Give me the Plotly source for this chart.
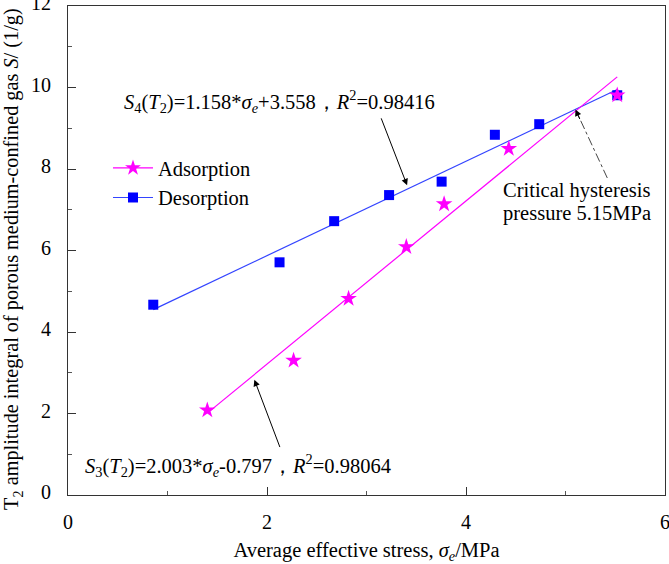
import plotly.graph_objects as go

# Data
des_x = [0.857, 2.126, 2.675, 3.227, 3.755, 4.29, 4.736, 5.52]
des_y = [4.67, 5.71, 6.72, 7.36, 7.69, 8.84, 9.10, 9.81]
ads_x = [1.40, 2.267, 2.82, 3.40, 3.78, 4.43, 5.52]
ads_y = [2.08, 3.30, 4.82, 6.09, 7.14, 8.50, 9.81]
# fitted lines endpoints (S4 = 1.158*x + 3.558 ; S3 = 2.003*x - 0.797)
des_fit_x = [0.857, 5.52]
des_fit_y = [4.55, 9.95]
ads_fit_x = [1.40, 5.52]
ads_fit_y = [2.01, 10.26]
x_ticks = [0, 2, 4, 6]
y_ticks = [0, 2, 4, 6, 8, 10, 12]

FONT = "Liberation Serif, Times New Roman, serif"
MAG = "#FF00FF"
BLU = "#0000FF"
AF = 20.5

fig = go.Figure()
# fit lines
fig.add_trace(go.Scatter(x=des_fit_x, y=des_fit_y, mode="lines",
                         line=dict(color="#3344FF", width=1.2), showlegend=False, hoverinfo="skip"))
fig.add_trace(go.Scatter(x=ads_fit_x, y=ads_fit_y, mode="lines",
                         line=dict(color=MAG, width=1.2), showlegend=False, hoverinfo="skip"))
# markers
fig.add_trace(go.Scatter(x=des_x, y=des_y, mode="markers",
                         marker=dict(symbol="square", size=10, color=BLU), showlegend=False))
fig.add_trace(go.Scatter(x=ads_x, y=ads_y, mode="markers",
                         marker=dict(symbol="star", size=12.5, color=MAG, line=dict(width=0)), showlegend=False))
# legend entries
fig.add_trace(go.Scatter(x=[None], y=[None], mode="lines+markers", name="Adsorption",
                         line=dict(color=MAG, width=1.2),
                         marker=dict(symbol="star", size=12, color=MAG)))
fig.add_trace(go.Scatter(x=[None], y=[None], mode="lines+markers", name="Desorption",
                         line=dict(color="#3344FF", width=1.2),
                         marker=dict(symbol="square", size=10, color=BLU)))

annots = []
annots.append(dict(x=0.544, y=9.65, xref="x", yref="y", xanchor="left", yanchor="middle",
                   showarrow=False, font=dict(size=AF, family=FONT, color="black"),
                   text="<i>S</i><sub>4</sub>(<i>T</i><sub>2</sub>)=1.158*<i>σ<sub>e</sub></i>+3.558，<i>R</i><sup>2</sup>=0.98416"))
annots.append(dict(x=0.150, y=0.713, xref="x", yref="y", xanchor="left", yanchor="middle",
                   showarrow=False, font=dict(size=AF, family=FONT, color="black"),
                   text="<i>S</i><sub>3</sub>(<i>T</i><sub>2</sub>)=2.003*<i>σ<sub>e</sub></i>-0.797，<i>R</i><sup>2</sup>=0.98064"))
annots.append(dict(x=4.349, y=(495 - 188.8) / 40.96, xref="x", yref="y", xanchor="left", yanchor="middle",
                   showarrow=False, font=dict(size=AF, family=FONT, color="black"),
                   text="Critical hysteresis"))
annots.append(dict(x=4.349, y=(495 - 212.2) / 40.96, xref="x", yref="y", xanchor="left", yanchor="middle",
                   showarrow=False, font=dict(size=AF, family=FONT, color="black"),
                   text="pressure 5.15MPa"))
# y-axis title as rotated annotation
annots.append(dict(x=-0.092, y=0.483, xref="paper", yref="paper", xanchor="center", yanchor="middle",
                   showarrow=False, textangle=-90, font=dict(size=20.3, family=FONT, color="black"),
                   text="T<sub>2</sub> amplitude integral of porous medium-confined gas <i>S</i>/ (1/g)"))
# arrows
annots.append(dict(x=3.408, y=7.60, ax=3.142, ay=9.28, xref="x", yref="y", axref="x", ayref="y",
                   showarrow=True, arrowhead=2, arrowsize=1.3, arrowwidth=1, arrowcolor="black", text=""))
annots.append(dict(x=1.873, y=2.83, ax=2.135, ay=1.14, xref="x", yref="y", axref="x", ayref="y",
                   showarrow=True, arrowhead=2, arrowsize=1.3, arrowwidth=1, arrowcolor="black", text=""))
annots.append(dict(x=5.10, y=9.46, ax=5, ay=11, xref="x", yref="y",
                   showarrow=True, arrowhead=2, arrowsize=1.3, arrowwidth=1, arrowcolor="black", text=""))

fig.add_shape(type="line", x0=5.42, y0=7.78, x1=5.125, y1=9.33, xref="x", yref="y",
              line=dict(color="#444444", width=1, dash="dashdot"))

axis_common = dict(showline=True, mirror=True, linecolor="#333333", linewidth=1.2,
                   ticks="inside", ticklen=8, tickwidth=1, tickcolor="#333333",
                   showgrid=False, zeroline=False, ticklabeloverflow="allow", automargin=False,
                   tickfont=dict(size=20, family=FONT, color="black"),
                   minor=dict(ticks="inside", ticklen=4, tickwidth=1, tickcolor="#555555", dtick=1))

fig.update_xaxes(range=[0, 6], tickvals=x_ticks, ticklabelstandoff=9,
                 title=dict(text="Average effective stress, <i>σ<sub>e</sub></i>/MPa",
                            font=dict(size=20.5, family=FONT, color="black"), standoff=12),
                 **axis_common)
fig.update_yaxes(range=[0, 12], tickvals=y_ticks, ticklabelstandoff=12, ticklabelshift=-3,
                 **axis_common)

fig.update_layout(width=669, height=564, margin=dict(l=68, r=4, t=6, b=69),
                  plot_bgcolor="white", paper_bgcolor="white",
                  font=dict(family=FONT, color="black"),
                  annotations=annots,
                  legend=dict(x=0.067, y=0.638, xanchor="left", yanchor="middle",
                              bgcolor="rgba(0,0,0,0)", font=dict(size=20.5, family=FONT, color="black"),
                              itemwidth=40, tracegroupgap=0))

fig.write_html("out.html")
